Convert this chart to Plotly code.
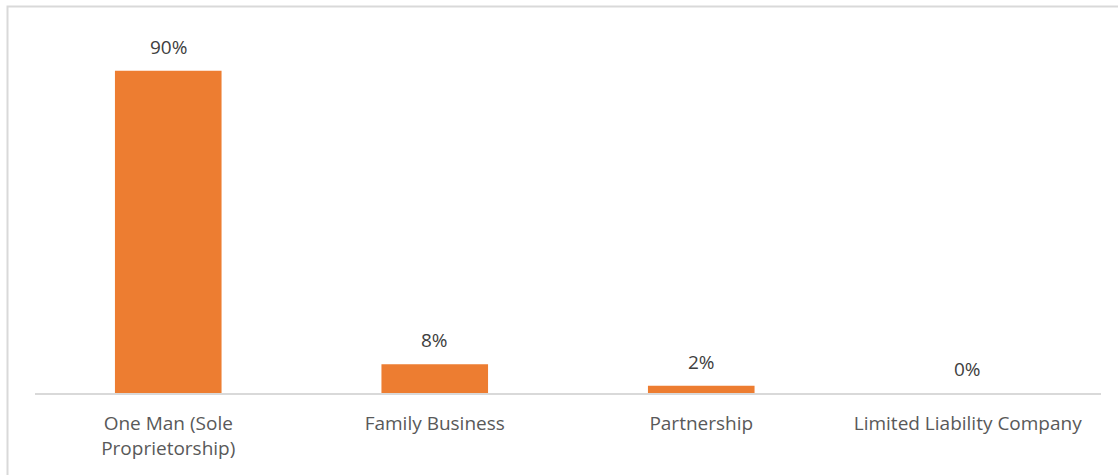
import plotly.graph_objects as go

# Business ownership structure shares (%)
categories = ["One Man (Sole<br>Proprietorship)", "Family Business", "Partnership", "Limited Liability Company"]
shares = [90, 8, 2, 0]
value_labels = [f"{v}%" for v in shares]

BAR_COLOR = "#ED7D31"
TICK_COLOR = "#595959"
LABEL_COLOR = "#404040"
LINE_COLOR = "#D9D9D9"
FONT = "'Open Sans', Lato, sans-serif"

W, H = 1118, 475
M_L, M_R, M_T, M_B = 35, 17, 35, 82
plot_w = W - M_L - M_R
plot_h = H - M_T - M_B

fig = go.Figure(
    go.Bar(
        x=categories,
        y=shares,
        marker=dict(color=BAR_COLOR, line=dict(width=0)),
        hoverinfo="skip",
    )
)

# value labels above each bar
for cat, v, lab in zip(categories, shares, value_labels):
    fig.add_annotation(
        x=cat, y=v, text=lab, showarrow=False, yanchor="middle",
        yshift=24, font=dict(family=FONT, size=19, color=LABEL_COLOR),
    )

# outer chart frame (right and bottom edges run past the page)
fig.add_shape(
    type="rect", xref="paper", yref="paper",
    x0=(7.5 - M_L) / plot_w, x1=1.2,
    y0=-0.5, y1=(M_T + plot_h - 6.5) / plot_h,
    line=dict(color=LINE_COLOR, width=2), fillcolor="rgba(0,0,0,0)", layer="below",
)

fig.update_layout(
    width=W, height=H,
    margin=dict(l=M_L, r=M_R, t=M_T, b=M_B),
    paper_bgcolor="white", plot_bgcolor="white",
    bargap=0.6,
    showlegend=False,
    font=dict(family=FONT, size=19, color=TICK_COLOR),
    xaxis=dict(
        showline=True, linecolor=LINE_COLOR, linewidth=2,
        showgrid=False, ticks="", ticklen=0, ticklabelstandoff=12,
        tickfont=dict(family=FONT, size=19, color=TICK_COLOR),
    ),
    yaxis=dict(range=[0, 100], visible=False, showgrid=False, zeroline=False),
)

fig.write_html("out.html")
